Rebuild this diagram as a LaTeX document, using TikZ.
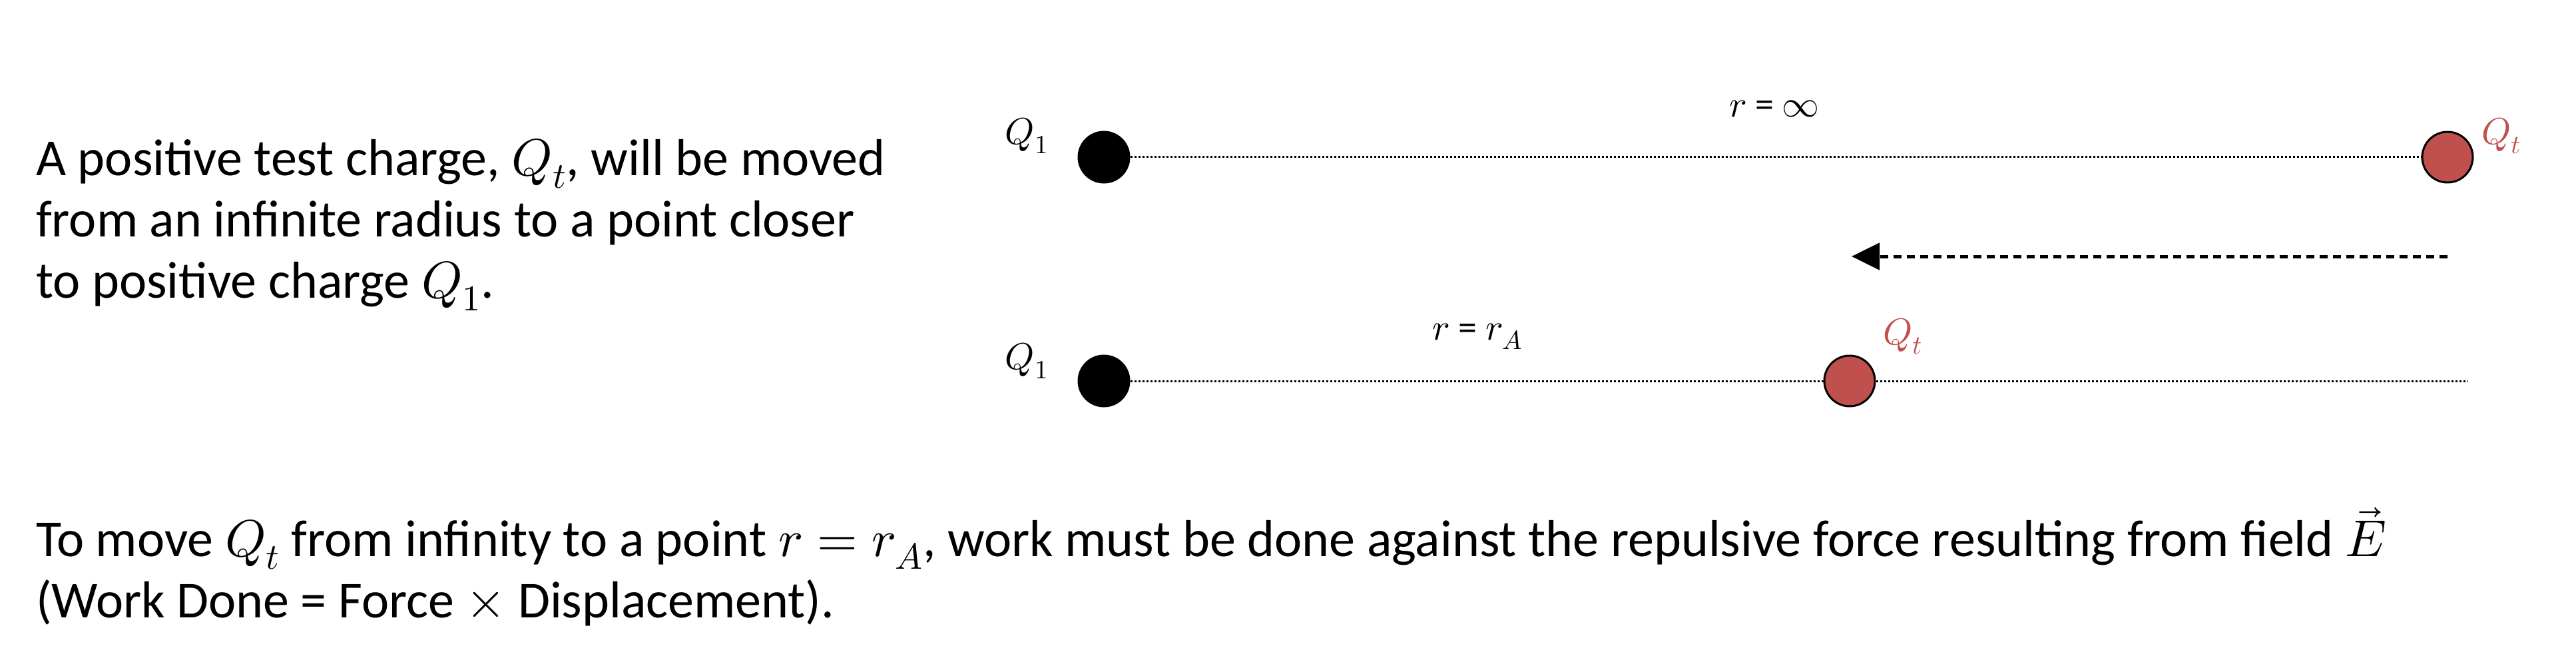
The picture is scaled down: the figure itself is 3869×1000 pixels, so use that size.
\documentclass[tikz,border=0pt]{standalone}
\usepackage{fontspec}
\usepackage{unicode-math}
\setmainfont{Carlito}
\setmathfont{Latin Modern Math}
\usetikzlibrary{arrows.meta}
\begin{document}
\begin{tikzpicture}[x=1pt,y=-1pt,
  charge/.style={circle,draw=black,line width=3pt,minimum size=76pt,inner sep=0pt},
  conn/.style={line width=3pt,dash pattern=on 3pt off 3pt},
  lab/.style={font=\fontsize{56}{60}\selectfont,inner sep=0pt},
  body/.style={font=\fontsize{78}{92}\selectfont,align=left,inner sep=0pt,anchor=north west}]
\useasboundingbox (0,0) rectangle (3869,1000);
\definecolor{qred}{RGB}{192,80,77}
\node[body] (t1) at (54,208) {A positive test charge, $Q_t$, will be moved\\from an infinite radius to a point closer\\to positive charge $Q_1$.};
\node[body] (t2) at (54,762) {To move $Q_t$ from infinity to a point $r=r_A$, work must be done against the repulsive force resulting from field $\vec{E}$\\(Work Done = Force $\times$ Displacement).};
\node[charge,fill=black] (a1) at (1658,236) {};
\node[charge,fill=qred] (b1) at (3676,236) {};
\draw[conn] (a1) -- (b1);
\node[charge,fill=black] (a2) at (1658,572) {};
\node[charge,fill=qred] (b2) at (2778,572) {};
\coordinate (e2) at (3707,572);
\draw[conn] (a2) -- (b2);
\draw[conn] (b2) -- (e2);
\coordinate (s) at (3676,385);
\coordinate (e) at (2781,385);
\draw[line width=5pt,dash pattern=on 12pt off 8pt,-{Triangle[length=42pt,width=40pt]}] (s) -- (e);
\node[lab] (l1) at (2665,163) {$r$ = $\infty$};
\node[lab] (l2) at (2219,505) {$r$ = $r_A$};
\node[lab] (q1) at (1542,204) {$Q_1$};
\node[lab] (q2) at (1542,542) {$Q_1$};
\node[lab,text=qred] (qt1) at (3757,204) {$Q_t$};
\node[lab,text=qred] (qt2) at (2858,505) {$Q_t$};
\end{tikzpicture}
\end{document}
